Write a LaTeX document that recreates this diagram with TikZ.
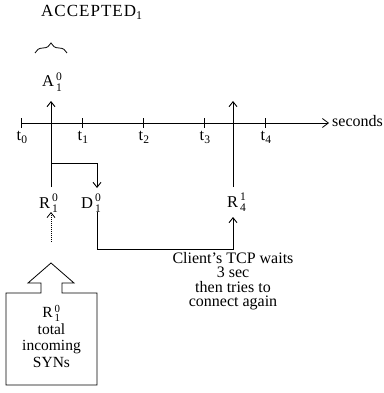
\documentclass[tikz,border=0pt]{standalone}
\usepackage{fontspec}
\setmainfont{Liberation Serif}
\usetikzlibrary{arrows.meta,decorations.pathreplacing}
\tikzset{
  axisrule/.style={draw=black,line width=.8pt},
  flow/.style={draw=black,line width=.9pt,
               -{Straight Barb[length=5pt,width=8pt]}},
  hint/.style={draw=black,line width=.8pt,dash pattern=on .9pt off 1.1pt,
               -{Straight Barb[length=5pt,width=8pt]}},
  label/.style={inner sep=0pt,font=\fontsize{16.5}{17}\selectfont},
  note/.style={inner sep=0pt,align=center,font=\fontsize{16}{14.5}\selectfont},
  boxnote/.style={inner sep=0pt,align=center,font=\fontsize{15.5}{16.5}\selectfont}
}
\newcommand{\ev}[3]{$\mathrm{#1}^{\,\mathrm{#2}}_{\,\mathrm{#3}}$}
\begin{document}
\begin{tikzpicture}[x=1pt,y=-1pt]
  \useasboundingbox (0,0) rectangle (383,393);

  % accepted connections
  \node[anchor=base west,inner sep=0pt,font=\fontsize{17}{18}\selectfont] (accepted) at (41,17)
    {\addfontfeature{LetterSpace=6}ACCEPTED$_{\mathrm{1}}$};
  \draw[decorate,decoration={brace,amplitude=10pt},line width=.8pt] (35,53) -- (67,53);
  \node[label,anchor=base west] (Azero) at (42,87) {\ev{A}{0}{1}};

  % time axis
  \coordinate (axstart) at (21,123);
  \coordinate (axend) at (329,123);
  \draw[axisrule,-{Straight Barb[length=6pt,width=9pt]}] (axstart) -- (axend);
  \node[anchor=west,inner sep=0pt,font=\fontsize{16}{17}\selectfont] (secs) at (332,121) {seconds};
  \foreach \x/\i in {21/0,82/1,143/2,204/3,265/4}{
    \draw[axisrule] (\x,118) -- (\x,128);
    \node[label,anchor=north west] (t\i) at (\x-4.5,131) {t$_{\mathrm{\i}}$};
  }

  % first SYN and its drop
  \node[label,anchor=base west] (Rzero) at (39,208) {\ev{R}{0}{1}};
  \node[label,anchor=base west] (Dzero) at (81,208) {\ev{D}{0}{1}};
  \coordinate (rzfoot) at (51,187);
  \coordinate (rztip) at (51,101);
  \coordinate (fork) at (51,163);
  \coordinate (dtip) at (97,188);
  \draw[flow] (rzfoot) -- (rztip);
  \draw[flow] (fork) -| (dtip);

  % retry after the timeout
  \node[label,anchor=base west] (Rone) at (227,207) {\ev{R}{1}{4}};
  \coordinate (rofoot) at (233,187);
  \coordinate (rotip) at (233,101);
  \draw[flow] (rofoot) -- (rotip);
  \coordinate (dfoot) at (97,212);
  \coordinate (rowait) at (233,217);
  \draw[flow] (dfoot) -- ++(0,37) -| (rowait);
  \node[note,anchor=north] (wait) at (233,252)
    {Client's TCP waits\\3 sec\\then tries to\\connect again};

  % incoming SYNs
  \coordinate (synfoot) at (51,242);
  \coordinate (syntip) at (51,212);
  \draw[hint] (synfoot) -- (syntip);
  \draw[line width=.8pt] (6,293) -- (41,293) -- (41,283) -- (28,283) -- (51,263)
    -- (74,283) -- (62,283) -- (62,293) -- (97,293) -- (97,385) -- (6,385) -- cycle;
  \node[boxnote,anchor=north] (syns) at (51.5,305)
    {\ev{R}{0}{1}\\total\\incoming\\SYNs};
\end{tikzpicture}
\end{document}
